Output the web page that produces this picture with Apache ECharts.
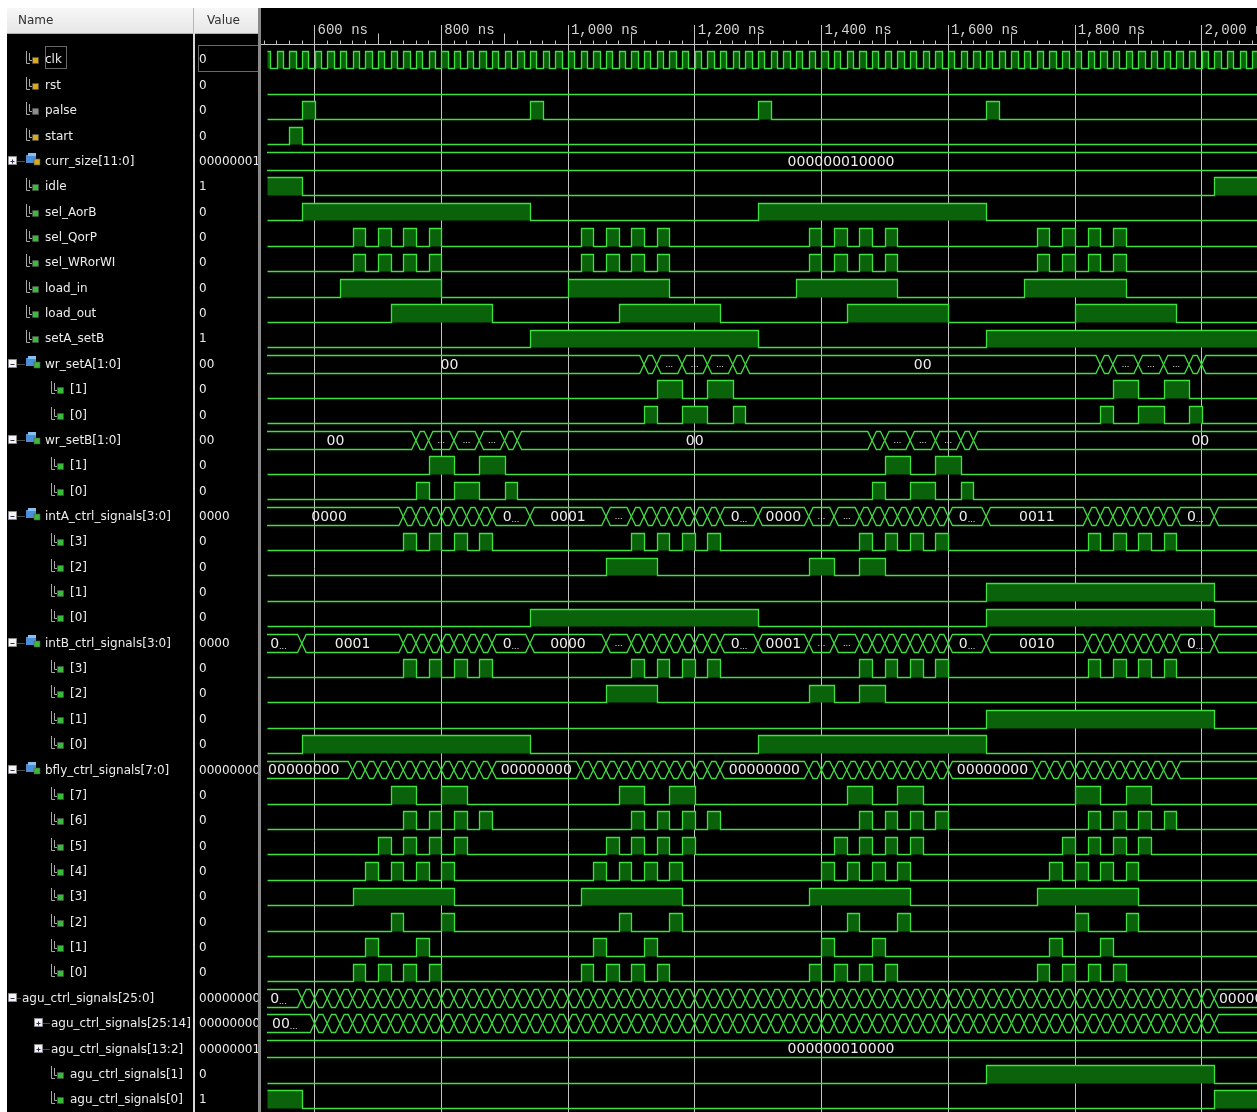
<!DOCTYPE html>
<html><head><meta charset="utf-8"><title>ISim waveform</title>
<script src="https://cdn.jsdelivr.net/npm/echarts@6.0.0/dist/echarts.min.js"></script>
<style>html,body{margin:0;padding:0;background:#000;overflow:hidden;}#chart{width:1257px;height:1112px;}</style>
</head><body><div id="chart"></div>
<script>
// ================= DATA =================
const signalNames = ['clk','rst','palse','start','curr_size[11:0]','idle','sel_AorB','sel_QorP','sel_WRorWI','load_in','load_out','setA_setB','wr_setA[1:0]','[1]','[0]','wr_setB[1:0]','[1]','[0]','intA_ctrl_signals[3:0]','[3]','[2]','[1]','[0]','intB_ctrl_signals[3:0]','[3]','[2]','[1]','[0]','bfly_ctrl_signals[7:0]','[7]','[6]','[5]','[4]','[3]','[2]','[1]','[0]','agu_ctrl_signals[25:0]','agu_ctrl_signals[25:14]','agu_ctrl_signals[13:2]','agu_ctrl_signals[1]','agu_ctrl_signals[0]'];
const cursorValues = ['0','0','0','0','000000010000','1','0','0','0','0','0','1','00','0','0','00','0','0','0000','0','0','0','0','0000','0','0','0','0','00000000','0','0','0','0','0','0','0','0','00000000000000000000000000','000000000000','000000010000','0','1'];
const signalKinds = ['inBit','inBit','grayBit','inBit','inBus','bit','bit','bit','bit','bit','bit','bit','bus','child','child','bus','child','child','bus','child','child','child','child','bus','child','child','child','child','bus','child','child','child','child','child','child','child','child','group','groupBus','groupBus','child','child'];

const headerNames = ['Name', 'Value'];
const timeUnit = ' ns';

// clock: rising edges (ns) and high time
const clkRises = [520,540,560,580,600,620,640,660,680,700,720,740,760,780,800,820,840,860,880,900,920,940,960,980,1000,1020,1040,1060,1080,1100,1120,1140,1160,1180,1200,1220,1240,1260,1280,1300,1320,1340,1360,1380,1400,1420,1440,1460,1480,1500,1520,1540,1560,1580,1600,1620,1640,1660,1680,1700,1720,1740,1760,1780,1800,1820,1840,1860,1880,1900,1920,1940,1960,1980,2000,2020,2040,2060,2080];
const clkHighNs = 10;

// 1-bit signals: [rise, fall] high intervals in ns
const rst = [];
const palse = [[580,600],[940,960],[1300,1320],[1660,1680]];
const start = [[560,580]];
const idle = [[0,580],[2020,2400]];
const selAorB = [[580,940],[1300,1660]];
const selQorP = [[660,680],[700,720],[740,760],[780,800],[1020,1040],[1060,1080],[1100,1120],[1140,1160],[1380,1400],[1420,1440],[1460,1480],[1500,1520],[1740,1760],[1780,1800],[1820,1840],[1860,1880]];
const selWRorWI = [[660,680],[700,720],[740,760],[780,800],[1020,1040],[1060,1080],[1100,1120],[1140,1160],[1380,1400],[1420,1440],[1460,1480],[1500,1520],[1740,1760],[1780,1800],[1820,1840],[1860,1880]];
const loadIn = [[640,800],[1000,1160],[1360,1520],[1720,1880]];
const loadOut = [[720,880],[1080,1240],[1440,1600],[1800,1960]];
const setAsetB = [[940,1300],[1660,2400]];
const wrSetA1 = [[1140,1180],[1220,1260],[1860,1900],[1940,1980]];
const wrSetA0 = [[1120,1140],[1180,1220],[1260,1280],[1840,1860],[1900,1940],[1980,2000]];
const wrSetB1 = [[780,820],[860,900],[1500,1540],[1580,1620]];
const wrSetB0 = [[760,780],[820,860],[900,920],[1480,1500],[1540,1580],[1620,1640]];
const intA3 = [[740,760],[780,800],[820,840],[860,880],[1100,1120],[1140,1160],[1180,1200],[1220,1240],[1460,1480],[1500,1520],[1540,1560],[1580,1600],[1820,1840],[1860,1880],[1900,1920],[1940,1960]];
const intA2 = [[1060,1140],[1380,1420],[1460,1500]];
const intA1 = [[1660,2020]];
const intA0 = [[940,1300],[1660,2020]];
const intB3 = [[740,760],[780,800],[820,840],[860,880],[1100,1120],[1140,1160],[1180,1200],[1220,1240],[1460,1480],[1500,1520],[1540,1560],[1580,1600],[1820,1840],[1860,1880],[1900,1920],[1940,1960]];
const intB2 = [[1060,1140],[1380,1420],[1460,1500]];
const intB1 = [[1660,2020]];
const intB0 = [[580,940],[1300,1660]];
const bfly7 = [[720,760],[800,840],[1080,1120],[1160,1200],[1440,1480],[1520,1560],[1800,1840],[1880,1920]];
const bfly6 = [[740,760],[780,800],[820,840],[860,880],[1100,1120],[1140,1160],[1180,1200],[1220,1240],[1460,1480],[1500,1520],[1540,1560],[1580,1600],[1820,1840],[1860,1880],[1900,1920],[1940,1960]];
const bfly5 = [[700,720],[740,760],[780,800],[820,840],[1060,1080],[1100,1120],[1140,1160],[1180,1200],[1420,1440],[1460,1480],[1500,1520],[1540,1560],[1780,1800],[1820,1840],[1860,1880],[1900,1920]];
const bfly4 = [[680,700],[720,740],[760,780],[800,820],[1040,1060],[1080,1100],[1120,1140],[1160,1180],[1400,1420],[1440,1460],[1480,1500],[1520,1540],[1760,1780],[1800,1820],[1840,1860],[1880,1900]];
const bfly3 = [[660,820],[1020,1180],[1380,1540],[1740,1900]];
const bfly2 = [[720,740],[800,820],[1080,1100],[1160,1180],[1440,1460],[1520,1540],[1800,1820],[1880,1900]];
const bfly1 = [[680,700],[760,780],[1040,1060],[1120,1140],[1400,1420],[1480,1500],[1760,1780],[1840,1860]];
const bfly0 = [[660,680],[700,720],[740,760],[780,800],[1020,1040],[1060,1080],[1100,1120],[1140,1160],[1380,1400],[1420,1440],[1460,1480],[1500,1520],[1740,1760],[1780,1800],[1820,1840],[1860,1880]];
const agu1 = [[1660,2020]];
const agu0 = [[0,580],[2020,2400]];

// buses: transition times (ns) and shown labels [segment start, text]
const currSizeEdges = [];
const currSizeLabels = [[0,'000000010000']];
const wrSetAEdges = [1120,1140,1180,1220,1260,1280,1840,1860,1900,1940,1980,2000];
const wrSetALabels = [[0,'00'],[1140,'...'],[1180,'...'],[1220,'...'],[1280,'00'],[1860,'...'],[1900,'...'],[1940,'...'],[2000,'00']];
const wrSetBEdges = [760,780,820,860,900,920,1480,1500,1540,1580,1620,1640];
const wrSetBLabels = [[0,'00'],[780,'...'],[820,'...'],[860,'...'],[920,'00'],[1500,'...'],[1540,'...'],[1580,'...'],[1640,'00']];
const intAEdges = [740,760,780,800,820,840,860,880,940,1060,1100,1120,1140,1160,1180,1200,1220,1240,1300,1380,1420,1460,1480,1500,1520,1540,1560,1580,1600,1660,1820,1840,1860,1880,1900,1920,1940,1960,2020];
const intALabels = [[0,'0000'],[880,'0...'],[940,'0001'],[1060,'...'],[1240,'0...'],[1300,'0000'],[1380,'...'],[1420,'...'],[1600,'0...'],[1660,'0011'],[1960,'0...'],[2020,'0000']];
const intBEdges = [580,740,760,780,800,820,840,860,880,940,1060,1100,1120,1140,1160,1180,1200,1220,1240,1300,1380,1420,1460,1480,1500,1520,1540,1560,1580,1600,1660,1820,1840,1860,1880,1900,1920,1940,1960,2020];
const intBLabels = [[0,'0...'],[580,'0001'],[880,'0...'],[940,'0000'],[1060,'...'],[1240,'0...'],[1300,'0001'],[1380,'...'],[1420,'...'],[1600,'0...'],[1660,'0010'],[1960,'0...'],[2020,'0000']];
const bflyEdges = [660,680,700,720,740,760,780,800,820,840,860,880,1020,1040,1060,1080,1100,1120,1140,1160,1180,1200,1220,1240,1380,1400,1420,1440,1460,1480,1500,1520,1540,1560,1580,1600,1740,1760,1780,1800,1820,1840,1860,1880,1900,1920,1940,1960];
const bflyLabels = [[0,'00000000'],[880,'00000000'],[1240,'00000000'],[1600,'00000000'],[1960,'00000000']];
const aguAllEdges = [580,600,620,640,660,680,700,720,740,760,780,800,820,840,860,880,900,920,940,960,980,1000,1020,1040,1060,1080,1100,1120,1140,1160,1180,1200,1220,1240,1260,1280,1300,1320,1340,1360,1380,1400,1420,1440,1460,1480,1500,1520,1540,1560,1580,1600,1620,1640,1660,1680,1700,1720,1740,1760,1780,1800,1820,1840,1860,1880,1900,1920,1940,1960,1980,2000,2020];
const aguAllLabels = [[0,'0...'],[2020,'0000000000000000000000...']];
const aguHiEdges = [600,620,640,660,680,700,720,740,760,780,800,820,840,860,880,900,920,940,960,980,1000,1020,1040,1060,1080,1100,1120,1140,1160,1180,1200,1220,1240,1260,1280,1300,1320,1340,1360,1380,1400,1420,1440,1460,1480,1500,1520,1540,1560,1580,1600,1620,1640,1660,1680,1700,1720,1740,1760,1780,1800,1820,1840,1860,1880,1900,1920,1940,1960,1980,2000,2020];
const aguHiLabels = [[0,'00...'],[2020,'000000000000']];
const aguMidEdges = [];
const aguMidLabels = [[0,'000000010000']];

// ================= TABLE BUILT FROM DATA =================
const clkPulses = clkRises.map(r => [r, r + clkHighNs]);
const bus = (edges, labels) => ({ edges, labels });
const waveData = [
  clkPulses, rst, palse, start, bus(currSizeEdges, currSizeLabels), idle, selAorB, selQorP, selWRorWI, loadIn, loadOut, setAsetB,
  bus(wrSetAEdges, wrSetALabels), wrSetA1, wrSetA0,
  bus(wrSetBEdges, wrSetBLabels), wrSetB1, wrSetB0,
  bus(intAEdges, intALabels), intA3, intA2, intA1, intA0,
  bus(intBEdges, intBLabels), intB3, intB2, intB1, intB0,
  bus(bflyEdges, bflyLabels), bfly7, bfly6, bfly5, bfly4, bfly3, bfly2, bfly1, bfly0,
  bus(aguAllEdges, aguAllLabels), bus(aguHiEdges, aguHiLabels), bus(aguMidEdges, aguMidLabels), agu1, agu0
];

// ================= VIEW / STYLE =================
const VIEW_START = 525, VIEW_END = 2356;   // drawn time span
const LABEL_START = 506, LABEL_END = 2356; // span used to centre bus labels
const LINE = '#3fe03f', FILL = '#0a620a', TXT = '#ededed', LW = 1.3, D = 4.3;
const NAME_FONT = '12px "DejaVu Sans"';
const Y_MIN = -0.8596, Y_MAX = 42.003;

function poly(points) {
  return { type: 'polyline', shape: { points }, style: { stroke: LINE, lineWidth: LW, fill: null } };
}
function busText(x, y, txt) {
  const m = txt.match(/^(.*?)(\.\.\.)?$/);
  let s = '';
  if (m[1]) s += '{d|' + m[1] + '}';
  if (m[2]) s += '{e|...}';
  return { type: 'text', x, y, z2: 5, style: { text: s, align: 'center', verticalAlign: 'middle',
    rich: { d: { fill: TXT, fontSize: 14, fontFamily: 'DejaVu Sans' }, e: { fill: TXT, fontSize: 8, fontFamily: 'DejaVu Sans', verticalAlign: 'bottom' } } } };
}

function renderWave(params, api) {
  const i = api.value(2);
  const w = waveData[i];
  const yc = api.coord([VIEW_START, i + 0.5])[1];
  const half = api.size([0, 1])[1] * 0.347;
  const yHi = Math.round(yc - half) + 0.5, yLo = Math.round(yc + half) + 0.5, yMid = (yHi + yLo) / 2;
  const X = t => api.coord([t, i + 0.5])[0];
  const XR = t => Math.round(X(t)) + 0.5;
  const kids = [];
  if (Array.isArray(w)) {
    const ps = w.map(p => [Math.max(p[0], VIEW_START), Math.min(p[1], VIEW_END)]).filter(p => p[0] < p[1]).sort((a, b) => a[0] - b[0]);
    ps.forEach(p => kids.push({ type: 'rect', shape: { x: XR(p[0]), y: yHi, width: XR(p[1]) - XR(p[0]), height: yLo - yHi }, style: { fill: FILL } }));
    const pts = [];
    let cur = (ps.length && ps[0][0] <= VIEW_START) ? yHi : yLo;
    pts.push([XR(VIEW_START), cur]);
    ps.forEach(p => {
      if (p[0] > VIEW_START) pts.push([XR(p[0]), yLo], [XR(p[0]), yHi]);
      if (p[1] < VIEW_END) { pts.push([XR(p[1]), yHi], [XR(p[1]), yLo]); cur = yLo; } else cur = yHi;
    });
    pts.push([XR(VIEW_END), cur]);
    kids.push(poly(pts));
  } else {
    const b = [VIEW_START].concat(w.edges.filter(t => t > VIEW_START && t < VIEW_END), [VIEW_END]);
    for (let k = 0; k < b.length - 1; k++) {
      const xs = X(b[k]), xe = X(b[k + 1]);
      const dm = Math.min(D, (xe - xs) / 2);
      const dl = k > 0 ? dm : 0, dr = k < b.length - 2 ? dm : 0;
      const top = [], bot = [];
      if (dl) { top.push([xs, yMid]); bot.push([xs, yMid]); }
      top.push([xs + dl, yHi], [xe - dr, yHi]);
      bot.push([xs + dl, yLo], [xe - dr, yLo]);
      if (dr) { top.push([xe, yMid]); bot.push([xe, yMid]); }
      kids.push(poly(top), poly(bot));
    }
    w.labels.forEach(l => {
      const e = w.edges.find(t => t > l[0]);
      const end = e === undefined ? LABEL_END : Math.min(e, LABEL_END);
      const cx = (X(Math.max(l[0], LABEL_START)) + X(end)) / 2;
      kids.push(busText(cx, yMid + 0.5, l[1]));
    });
  }
  return { type: 'group', children: kids };
}

const NAME_LAYOUT = {
  inBit:    { icon: 'bit', iconX: 25, color: '#d8a820', textX: 45 },
  grayBit:  { icon: 'bit', iconX: 25, color: '#8c8c8c', textX: 45 },
  bit:      { icon: 'bit', iconX: 25, color: '#3cb83c', textX: 45 },
  inBus:    { box: '+', boxX: 8, icon: 'bus', iconX: 26, color: '#d8a820', textX: 45 },
  bus:      { box: '-', boxX: 8, icon: 'bus', iconX: 26, color: '#3cb83c', textX: 45 },
  child:    { icon: 'bit', iconX: 50, color: '#3cb83c', textX: 70 },
  group:    { box: '-', boxX: 8, textX: 22 },
  groupBus: { box: '+', boxX: 34, textX: 51 }
};
const VALUE_X = 199;

function renderName(params, api) {
  const i = api.value(2);
  const y = Math.round(api.coord([0, i + 0.5])[1]);
  const L = NAME_LAYOUT[signalKinds[i]];
  const kids = [];
  if (L.box) {
    const bx = L.boxX + 0.5, by = y - 4.5;
    const connEnd = L.icon ? L.iconX - 1 : L.textX - 1;
    kids.push({ type: 'line', shape: { x1: bx + 9, y1: y + 0.5, x2: connEnd, y2: y + 0.5 }, style: { stroke: '#9a9a9a', lineWidth: 1, lineDash: [1, 1] } });
    kids.push({ type: 'rect', shape: { x: bx, y: by, width: 8, height: 8 }, style: { fill: '#f4f4f4', stroke: '#8a8a8a', lineWidth: 1 } });
    kids.push({ type: 'line', shape: { x1: bx + 2, y1: y + 0.5, x2: bx + 6, y2: y + 0.5 }, style: { stroke: '#303060', lineWidth: 1 } });
    if (L.box === '+') kids.push({ type: 'line', shape: { x1: bx + 4, y1: y - 1.5, x2: bx + 4, y2: y + 2.5 }, style: { stroke: '#303060', lineWidth: 1 } });
  }
  if (L.icon === 'bit') {
    const x = L.iconX;
    kids.push({ type: 'polyline', shape: { points: [[x + 1.5, y - 8], [x + 1.5, y + 4.5], [x + 5, y + 4.5]] }, style: { stroke: '#a8a8a8', lineWidth: 1, fill: null } });
    kids.push({ type: 'polyline', shape: { points: [[x + 4.5, y - 6], [x + 4.5, y + 1.5], [x + 7, y + 1.5]] }, style: { stroke: '#a8a8a8', lineWidth: 1, fill: null } });
    kids.push({ type: 'rect', shape: { x: x + 7.5, y: y - 1.5, width: 6, height: 6 }, style: { fill: L.color, stroke: '#505050', lineWidth: 0.6 } });
  } else if (L.icon === 'bus') {
    const x = L.iconX;
    kids.push({ type: 'rect', shape: { x: x, y: y - 6, width: 10, height: 8 }, style: { fill: '#4c8fd8' } });
    kids.push({ type: 'rect', shape: { x: x + 2, y: y - 8, width: 8, height: 3 }, style: { fill: '#86c0f0' } });
    kids.push({ type: 'rect', shape: { x: x + 8, y: y - 2, width: 6, height: 6 }, style: { fill: L.color, stroke: '#505050', lineWidth: 0.6 } });
  }
  kids.push({ type: 'text', x: L.textX, y: y + 0.5, style: { text: signalNames[i], fill: TXT, font: NAME_FONT, align: 'left', verticalAlign: 'middle' } });
  kids.push({ type: 'text', x: VALUE_X, y: y + 0.5, style: { text: cursorValues[i], fill: TXT, font: NAME_FONT, align: 'left', verticalAlign: 'middle' } });
  if (i === 0) {
    kids.push({ type: 'rect', shape: { x: 45.5, y: y - 12.5, width: 21, height: 22 }, style: { fill: null, stroke: '#d0d0d0', lineWidth: 1, lineDash: [1, 1] } });
    kids.push({ type: 'rect', shape: { x: 198.5, y: y - 13.5, width: 60, height: 26 }, style: { fill: null, stroke: '#d0d0d0', lineWidth: 1, lineDash: [1, 1] } });
  }
  return { type: 'group', children: kids };
}

const rowData = signalNames.map((n, i) => [VIEW_START, i + 0.5, i]);

const chart = echarts.init(document.getElementById('chart'), null, { renderer: 'canvas' });
chart.setOption({
  backgroundColor: '#000000',
  animation: false,
  grid: [
    { left: 251.16, width: 1013.76, top: 25, bottom: 0, containLabel: false, outerBoundsMode: 'none' },
    { left: 0, width: 258, top: 25, bottom: 0, containLabel: false, outerBoundsMode: 'none' }
  ],
  xAxis: [
    { gridIndex: 0, type: 'value', position: 'top', offset: -19.5, min: 500, max: 2100, splitNumber: 8,
      axisLine: { show: true, onZero: false, lineStyle: { color: '#c4c4c4', width: 1 } },
      axisTick: { show: false },
      axisLabel: { show: true, color: '#d4d4d4', fontFamily: 'Liberation Mono', fontSize: 14, align: 'left', margin: 7, padding: [0, 0, 0, 3],
        formatter: v => (v % 200 === 0 ? v.toLocaleString('en-US') + timeUnit : '') },
      splitLine: { show: true, lineStyle: { color: '#c4c4c4', width: 1 } } },
    { gridIndex: 0, type: 'value', position: 'top', offset: -19.5, min: 500, max: 2100, interval: 100,
      axisLine: { show: false, onZero: false },
      axisTick: { show: true, length: 11, lineStyle: { color: '#c4c4c4', width: 1 } },
      minorTick: { show: true, splitNumber: 5, length: 4, lineStyle: { color: '#c4c4c4', width: 1 } },
      axisLabel: { show: false }, splitLine: { show: false } },
    { gridIndex: 1, type: 'value', min: 0, max: 258, show: false }
  ],
  yAxis: [
    { gridIndex: 0, type: 'value', inverse: true, min: Y_MIN, max: Y_MAX, show: false },
    { gridIndex: 1, type: 'value', inverse: true, min: Y_MIN, max: Y_MAX, show: false }
  ],
  graphic: { elements: [
    { type: 'rect', z: 10, shape: { x: 0, y: 0, width: 1257, height: 8 }, style: { fill: '#ffffff' } },
    { type: 'rect', z: 10, shape: { x: 0, y: 0, width: 7, height: 1112 }, style: { fill: '#ffffff' } },
    { type: 'rect', z: 10, shape: { x: 7, y: 8, width: 252, height: 25 },
      style: { fill: new echarts.graphic.LinearGradient(0, 0, 0, 1, [{ offset: 0, color: '#f7f7f7' }, { offset: 1, color: '#e6e6e6' }]) } },
    { type: 'rect', z: 10, shape: { x: 7, y: 33, width: 252, height: 1079 }, style: { fill: '#000000' } },
    { type: 'line', z: 11, shape: { x1: 7, y1: 33.5, x2: 259, y2: 33.5 }, style: { stroke: '#b0b0b0', lineWidth: 1 } },
    { type: 'line', z: 11, shape: { x1: 193.5, y1: 8, x2: 193.5, y2: 33 }, style: { stroke: '#b8b8b8', lineWidth: 1 } },
    { type: 'rect', z: 11, shape: { x: 193, y: 33, width: 2, height: 1079 }, style: { fill: '#d8d8d8' } },
    { type: 'rect', z: 11, shape: { x: 258, y: 8, width: 3, height: 1104 }, style: { fill: '#8a8a8a' } },
    { type: 'text', z: 12, x: 18, y: 21, style: { text: headerNames[0], fill: '#303030', font: '12px "DejaVu Sans"', verticalAlign: 'middle' } },
    { type: 'text', z: 12, x: 207, y: 21, style: { text: headerNames[1], fill: '#303030', font: '12px "DejaVu Sans"', verticalAlign: 'middle' } }
  ] },
  series: [
    { type: 'custom', name: 'waves', xAxisIndex: 0, yAxisIndex: 0, clip: true, z: 2, silent: true, data: rowData, renderItem: renderWave },
    { type: 'custom', name: 'names', xAxisIndex: 2, yAxisIndex: 1, clip: true, z: 20, silent: true, data: rowData, renderItem: renderName }
  ]
});
</script></body></html>
